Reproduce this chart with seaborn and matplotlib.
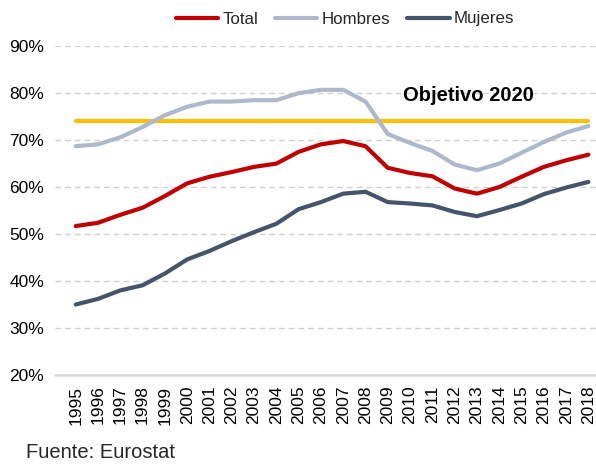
import numpy as np
import pandas as pd
import matplotlib
matplotlib.use("Agg")
import matplotlib.pyplot as plt
import seaborn as sns

years = list(range(1995, 2019))
total = [51.6, 52.3, 54.0, 55.5, 58.0, 60.7, 62.1, 63.1, 64.2, 64.9, 67.4, 69.0,
         69.7, 68.6, 64.0, 62.9, 62.2, 59.6, 58.5, 59.9, 62.1, 64.2, 65.6, 66.8]
hombres = [68.6, 69.0, 70.5, 72.7, 75.2, 77.0, 78.1, 78.1, 78.4, 78.4, 79.9, 80.6,
           80.6, 78.1, 71.2, 69.3, 67.6, 64.7, 63.5, 64.9, 67.2, 69.5, 71.5, 72.9]
mujeres = [34.9, 36.1, 37.9, 39.0, 41.5, 44.5, 46.3, 48.4, 50.3, 52.1, 55.2, 56.7,
           58.5, 58.9, 56.7, 56.4, 56.0, 54.6, 53.7, 55.0, 56.4, 58.4, 59.8, 61.0]
objetivo = [74.0] * len(years)
series_names = ["Total", "Hombres", "Mujeres"]
y_ticks = [20, 30, 40, 50, 60, 70, 80, 90]
objetivo_label = "Objetivo 2020"
source_label = "Fuente: Eurostat"

colors = {"Total": "#C00000", "Hombres": "#ADB9CA", "Mujeres": "#44546A"}

sns.set_theme(style="white")
plt.rcParams["font.family"] = ["Liberation Sans", "DejaVu Sans"]

df = pd.DataFrame({
    "year": years * 3,
    "value": total + hombres + mujeres,
    "serie": sum([[n] * len(years) for n in series_names], []),
})
df_obj = pd.DataFrame({"year": years, "value": objetivo})

fig = plt.figure(figsize=(5.96, 4.65), dpi=100)
ax = fig.add_axes([55 / 596, 1 - 374.5 / 465, 1 - 55 / 596, (374.5 - 45.7) / 465])

sns.lineplot(data=df_obj, x="year", y="value", color="#FFC000", lw=3.0,
             ax=ax, legend=False, solid_capstyle="round", zorder=3)
sns.lineplot(data=df, x="year", y="value", hue="serie", hue_order=series_names,
             palette=colors, lw=3.0, ax=ax, solid_capstyle="round", zorder=4)

handles, labels = ax.get_legend_handles_labels()
if ax.get_legend() is not None:
    ax.get_legend().remove()

ax.set_xlim(1994.07, 2018.34)
ax.set_ylim(20, 90)
ax.set_yticks(y_ticks)
ax.set_yticklabels([f"{v}%" for v in y_ticks], fontsize=12.5, color="#000000")
ax.set_xticks(years)
ax.set_xticklabels([str(y) for y in years], rotation=90, fontsize=12.5, color="#000000")
ax.tick_params(axis="y", length=0, pad=8)
ax.tick_params(axis="x", length=0, pad=8)
ax.set_xlabel("")
ax.set_ylabel("")

for v in y_ticks[1:]:
    ax.axhline(v, color="#D0D0D0", lw=1.0, ls=(0, (4, 3)), zorder=1)
for s in ["top", "right", "left"]:
    ax.spines[s].set_visible(False)
ax.spines["bottom"].set_color("#D9D9D9")
ax.spines["bottom"].set_linewidth(1.8)

ax.text(2012.6, 79.3, objetivo_label, fontsize=14.5, fontweight="bold",
        ha="center", va="center", color="#000000")

leg = fig.legend(handles, labels, loc="center", bbox_to_anchor=(345 / 596, 1 - 19 / 465),
                 ncol=3, frameon=False, fontsize=12.2, handlelength=2.5,
                 handletextpad=0.25, columnspacing=1.0, borderaxespad=0)
for lh in leg.get_lines():
    lh.set_linewidth(3.0)

fig.text(26 / 596, 1 - 452 / 465, source_label, fontsize=14.5, ha="left", va="center")

fig.savefig("out.png", dpi=100)
